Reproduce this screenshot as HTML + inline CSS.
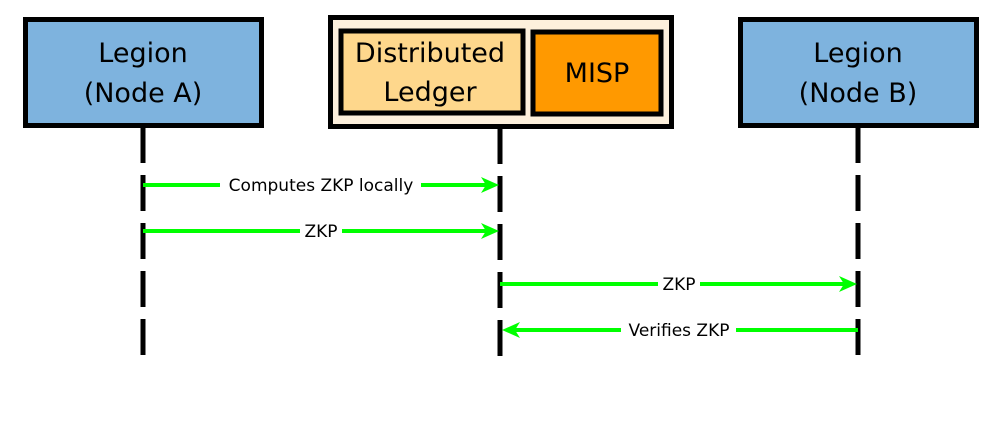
<!DOCTYPE html>
<html><head><style>body{margin:0;background:#fff}</style></head><body>
<svg width="997" height="429" xmlns="http://www.w3.org/2000/svg" font-family="'DejaVu Sans','Liberation Sans',sans-serif">
<rect x="0" y="0" width="997" height="429" fill="#fff"/>
<g stroke="#000" stroke-width="5" stroke-dasharray="36 12">
<line x1="143" y1="127" x2="143" y2="357"/>
<line x1="500" y1="128" x2="500" y2="357"/>
<line x1="858" y1="127" x2="858" y2="357"/>
</g>
<rect x="25.5" y="19.5" width="236" height="106" fill="#7eb3de" stroke="#000" stroke-width="5"/>
<text x="143" y="62" font-size="27" text-anchor="middle">Legion</text>
<text x="143" y="102" font-size="27" text-anchor="middle">(Node A)</text>
<rect x="740.5" y="19.5" width="236" height="106" fill="#7eb3de" stroke="#000" stroke-width="5"/>
<text x="858" y="62" font-size="27" text-anchor="middle">Legion</text>
<text x="858" y="102" font-size="27" text-anchor="middle">(Node B)</text>
<rect x="330.5" y="17.5" width="341" height="109" fill="#fdf0dc" stroke="#000" stroke-width="5"/>
<rect x="341" y="31" width="182" height="82" fill="#fed78c" stroke="#000" stroke-width="5"/>
<text x="430" y="62" font-size="27" text-anchor="middle">Distributed</text>
<text x="430" y="101" font-size="27" text-anchor="middle">Ledger</text>
<rect x="533" y="32" width="128" height="82" fill="#ff9900" stroke="#000" stroke-width="5"/>
<text x="597" y="82" font-size="27" text-anchor="middle">MISP</text>
<g stroke="#00ff00" stroke-width="4" fill="none">
<line x1="143" y1="185" x2="220" y2="185"/><line x1="421" y1="185" x2="490" y2="185"/>
<line x1="143" y1="231" x2="300" y2="231"/><line x1="342" y1="231" x2="490" y2="231"/>
<line x1="500" y1="284" x2="658" y2="284"/><line x1="700" y1="284" x2="848" y2="284"/>
<line x1="510" y1="330" x2="621" y2="330"/><line x1="736" y1="330" x2="858" y2="330"/>
</g>
<g fill="#00ff00">
<path d="M499 185 L481 177 L486 185 L481 193Z"/>
<path d="M499 231 L481 223 L486 231 L481 239Z"/>
<path d="M857 284 L839 276 L844 284 L839 292Z"/>
<path d="M502 330 L520 322 L515 330 L520 338Z"/>
</g>
<g font-size="17" text-anchor="middle" fill="#000">
<text x="321" y="191">Computes ZKP locally</text>
<text x="321" y="237">ZKP</text>
<text x="679" y="290">ZKP</text>
<text x="679" y="336">Verifies ZKP</text>
</g>
</svg>
</body></html>
